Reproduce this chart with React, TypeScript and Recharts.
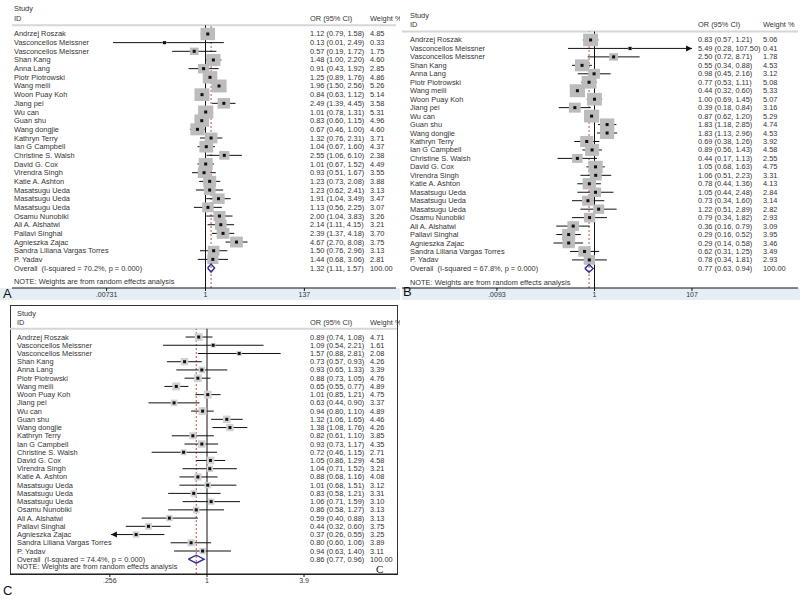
import React from "react";
import { ScatterChart, Scatter, XAxis, YAxis, ReferenceLine, ErrorBar } from "recharts";

const FONT = "'Liberation Sans', Arial, sans-serif";

const studies = [
  "Andrzej Roszak",
  "Vasconcellos Meissner",
  "Vasconcellos Meissner",
  "Shan Kang",
  "Anna Lang",
  "Piotr Piotrowski",
  "Wang meili",
  "Woon Puay Koh",
  "Jiang pei",
  "Wu can",
  "Guan shu",
  "Wang dongjie",
  "Kathryn Terry",
  "Ian G Campbell",
  "Christine S. Walsh",
  "David G. Cox",
  "Virendra Singh",
  "Katie A. Ashton",
  "Masatsugu Ueda",
  "Masatsugu Ueda",
  "Masatsugu Ueda",
  "Osamu Nunobiki",
  "Ali A. Alshatwi",
  "Pallavi Singhal",
  "Agnieszka Zajac",
  "Sandra Liliana Vargas Torres",
  "P. Yadav",
];

// panel A
const orA = [1.12, 0.13, 0.57, 1.48, 0.91, 1.25, 1.96, 0.84, 2.49, 1.01, 0.83, 0.67, 1.32, 1.04, 2.55, 1.01, 0.93, 1.23, 1.23, 1.91, 1.13, 2.0, 2.14, 2.39, 4.67, 1.5, 1.44];
const lowA = [0.79, 0.01, 0.19, 1.0, 0.43, 0.89, 1.5, 0.63, 1.39, 0.78, 0.6, 0.46, 0.76, 0.67, 1.06, 0.67, 0.51, 0.73, 0.62, 1.04, 0.56, 1.04, 1.11, 1.37, 2.7, 0.76, 0.68];
const highA = [1.58, 2.49, 1.72, 2.2, 1.92, 1.76, 2.56, 1.12, 4.45, 1.31, 1.15, 1.0, 2.31, 1.6, 6.1, 1.52, 1.67, 2.08, 2.41, 3.49, 2.25, 3.83, 4.15, 4.18, 8.08, 2.96, 3.06];
const weightA = [4.85, 0.33, 1.75, 4.6, 2.85, 4.86, 5.26, 5.14, 3.58, 5.31, 4.96, 4.6, 3.71, 4.37, 2.38, 4.49, 3.55, 3.88, 3.13, 3.47, 3.07, 3.26, 3.21, 3.7, 3.75, 3.13, 2.81];
const overallA = { or: 1.32, low: 1.11, high: 1.57, label: "Overall  (I-squared = 70.2%, p = 0.000)" };
const ticksA = [0.00731, 1, 137];
const tickLabelsA = [".00731", "1", "137"];

// panel B
const orB = [0.83, 5.49, 2.5, 0.55, 0.98, 0.77, 0.44, 1.0, 0.39, 0.87, 1.83, 1.83, 0.69, 0.89, 0.44, 1.05, 1.06, 0.78, 1.05, 0.73, 1.22, 0.79, 0.36, 0.29, 0.29, 0.62, 0.78];
const lowB = [0.57, 0.28, 0.72, 0.34, 0.45, 0.53, 0.32, 0.69, 0.18, 0.62, 1.18, 1.13, 0.38, 0.56, 0.17, 0.68, 0.51, 0.44, 0.44, 0.34, 0.51, 0.34, 0.16, 0.16, 0.14, 0.31, 0.34];
const highB = [1.21, 107.5, 8.71, 0.88, 2.16, 1.11, 0.6, 1.45, 0.84, 1.2, 2.85, 2.96, 1.26, 1.43, 1.13, 1.63, 2.23, 1.36, 2.48, 1.6, 2.89, 1.82, 0.79, 0.52, 0.58, 1.25, 1.81];
const weightB = [5.06, 0.41, 1.78, 4.53, 3.12, 5.08, 5.33, 5.07, 3.16, 5.29, 4.74, 4.53, 3.92, 4.58, 2.55, 4.75, 3.31, 4.13, 2.84, 3.14, 2.82, 2.93, 3.09, 3.95, 3.46, 3.49, 2.93];
const overallB = { or: 0.77, low: 0.63, high: 0.94, label: "Overall  (I-squared = 67.8%, p = 0.000)" };
const ticksB = [0.0093, 1, 107];
const tickLabelsB = [".0093", "1", "107"];

// panel C
const orC = [0.89, 1.09, 1.57, 0.73, 0.93, 0.88, 0.65, 1.01, 0.63, 0.94, 1.32, 1.38, 0.82, 0.93, 0.72, 1.05, 1.04, 0.88, 1.01, 0.83, 1.06, 0.86, 0.59, 0.44, 0.37, 0.8, 0.94];
const lowC = [0.74, 0.54, 0.88, 0.57, 0.65, 0.73, 0.55, 0.85, 0.44, 0.8, 1.06, 1.08, 0.61, 0.73, 0.46, 0.86, 0.71, 0.68, 0.68, 0.58, 0.71, 0.58, 0.4, 0.32, 0.26, 0.6, 0.63];
const highC = [1.08, 2.21, 2.81, 0.93, 1.33, 1.05, 0.77, 1.21, 0.9, 1.1, 1.65, 1.76, 1.1, 1.17, 1.15, 1.29, 1.52, 1.16, 1.51, 1.21, 1.59, 1.27, 0.88, 0.6, 0.55, 1.06, 1.4];
const weightC = [4.71, 1.61, 2.08, 4.26, 3.39, 4.76, 4.89, 4.75, 3.37, 4.89, 4.46, 4.26, 3.85, 4.35, 2.71, 4.58, 3.21, 4.08, 3.12, 3.31, 3.1, 3.13, 3.13, 3.75, 3.25, 3.89, 3.11];
const overallC = { or: 0.86, low: 0.77, high: 0.96, label: "Overall  (I-squared = 74.4%, p = 0.000)" };
const ticksC = [0.256, 1, 3.9];
const tickLabelsC = [".256", "1", "3.9"];

const arrowsB = [{ x: highB[1], y: 2, dir: 1 }];
const arrowsC = [{ x: lowC[24], y: 25, dir: -1 }];

const NOTE = "NOTE: Weights are from random effects analysis";

type Panel = {
  id: string;
  left: number;
  top: number;
  width: number;
  height: number;
  plotLeft: number;
  plotRight: number;
  plotTop: number;
  plotBottom: number;
  oneX: number;
  pxPerLn: number;
  rowGap: number;
  noteRow: number;
  cols: { name: number; or: number; w: number };
  box: [number, number];
  boxFill: string;
  or: number[];
  low: number[];
  high: number[];
  weight: number[];
  overall: { or: number; low: number; high: number; label: string };
  ticks: number[];
  tickLabels: string[];
  arrows: { x: number; y: number; dir: number }[];
  headTop: number;
};

const panels: Panel[] = [
  {
    id: "A", left: 0, top: 0, width: 400, height: 300,
    plotLeft: 12, plotRight: 396, plotTop: 25.3, plotBottom: 288,
    oneX: 205.5, pxPerLn: 20.1, rowGap: 8.67, noteRow: 29.6,
    cols: { name: 14, or: 310, w: 370 }, box: [6.6, 5.6], boxFill: "#bcbcbc",
    or: orA, low: lowA, high: highA, weight: weightA, overall: overallA,
    ticks: ticksA, tickLabels: tickLabelsA, arrows: [], headTop: 8.5,
  },
  {
    id: "B", left: 400, top: 0, width: 400, height: 300,
    plotLeft: 2, plotRight: 398, plotTop: 31.5, plotBottom: 288,
    oneX: 194.5, pxPerLn: 20.86, rowGap: 8.46, noteRow: 29.72,
    cols: { name: 10, or: 298, w: 363 }, box: [6.6, 5.6], boxFill: "#bcbcbc",
    or: orB, low: lowB, high: highB, weight: weightB, overall: overallB,
    ticks: ticksB, tickLabels: tickLabelsB, arrows: arrowsB, headTop: 15,
  },
  {
    id: "C", left: 0, top: 300, width: 400, height: 300,
    plotLeft: 10, plotRight: 397, plotTop: 28.8, plotBottom: 274,
    oneX: 207, pxPerLn: 71.3, rowGap: 8.23, noteRow: 28.94,
    cols: { name: 17, or: 310, w: 370 }, box: [3.6, 3.6], boxFill: "#d2d2d2",
    or: orC, low: lowC, high: highC, weight: weightC, overall: overallC,
    ticks: ticksC, tickLabels: tickLabelsC, arrows: arrowsC, headTop: 13,
  },
];

const txt = { fontSize: 7.4, fill: "#333", fontFamily: FONT };

const rowTick = (p: Panel) => (props: any) => {
  const { y, payload } = props;
  const r = payload.value;
  if (r === p.noteRow) {
    return (
      <text x={p.cols.name} y={y} dominantBaseline="central" style={txt}>
        {NOTE}
      </text>
    );
  }
  const i = r - 1;
  const isOverall = i === studies.length;
  const name = isOverall ? p.overall.label : studies[i];
  const o = isOverall ? p.overall.or : p.or[i];
  const lo = isOverall ? p.overall.low : p.low[i];
  const hi = isOverall ? p.overall.high : p.high[i];
  const w = isOverall ? 100 : p.weight[i];
  return (
    <g>
      <text x={p.cols.name} y={y} dominantBaseline="central" style={{ ...txt, whiteSpace: "pre" }}>
        {name}
      </text>
      <text x={p.cols.or} y={y} dominantBaseline="central" style={txt}>
        {`${o.toFixed(2)} (${lo.toFixed(2)}, ${hi.toFixed(2)})`}
      </text>
      <text x={p.cols.w} y={y} dominantBaseline="central" style={txt}>
        {w.toFixed(2)}
      </text>
    </g>
  );
};

const ForestPanel = ({ p }: { p: Panel }) => {
  const points = p.or.map((o, i) => ({
    x: o,
    y: i + 1,
    w: p.weight[i],
    err: [o - p.low[i], p.high[i] - o],
  }));
  const oy = studies.length + 1;
  const half = 4 / p.rowGap;
  const diamond = [
    { x: p.overall.low, y: oy },
    { x: p.overall.or, y: oy - half },
    { x: p.overall.high, y: oy },
    { x: p.overall.or, y: oy + half },
    { x: p.overall.low, y: oy },
  ];
  const domain = [
    Math.exp((p.plotLeft - p.oneX) / p.pxPerLn),
    Math.exp((p.plotRight - p.oneX) / p.pxPerLn),
  ];
  const yMax = (p.plotBottom - p.plotTop) / p.rowGap;
  const rowTicks = [...points.map((d) => d.y), oy, p.noteRow];

  return (
    <ScatterChart
      width={p.width}
      height={p.height}
      margin={{ top: p.plotTop, left: p.plotLeft - 1, right: p.width - p.plotRight, bottom: 0 }}
    >
      <XAxis
        type="number"
        dataKey="x"
        scale="log"
        domain={domain}
        allowDataOverflow
        ticks={p.ticks}
        interval={0}
        height={p.height - p.plotBottom}
        tickFormatter={(v: number) => p.tickLabels[p.ticks.indexOf(v)] ?? ""}
        tick={{ fontSize: 7, fill: "#333", fontFamily: FONT }}
        tickSize={3}
        tickMargin={1}
        axisLine={{ stroke: "#111" }}
        tickLine={{ stroke: "#111" }}
      />
      <YAxis
        type="number"
        dataKey="y"
        domain={[0, yMax]}
        allowDataOverflow
        reversed
        width={1}
        ticks={rowTicks}
        interval={0}
        axisLine={false}
        tickLine={false}
        tick={rowTick(p)}
      />
      <ReferenceLine y={0} stroke="#d6d6d6" strokeWidth={2} />
      <Scatter
        data={points}
        isAnimationActive={false}
        shape={(s: any) => {
          const bw = p.box[0] * Math.sqrt(s.payload.w);
          const bh = p.box[1] * Math.sqrt(s.payload.w);
          return <rect x={s.cx - bw / 2} y={s.cy - bh / 2} width={bw} height={bh} fill={p.boxFill} />;
        }}
      />
      <ReferenceLine x={1} stroke="#111" strokeWidth={1} />
      <ReferenceLine x={p.overall.or} stroke="#c0504d" strokeDasharray="2 2" strokeWidth={1} />
      <Scatter
        data={points}
        isAnimationActive={false}
        shape={(s: any) => <rect x={s.cx - 1.5} y={s.cy - 1.5} width={3} height={3} fill="#111" />}
      >
        <ErrorBar dataKey="err" direction="x" width={0} stroke="#111" strokeWidth={1} />
      </Scatter>
      <Scatter
        data={diamond}
        isAnimationActive={false}
        line={{ stroke: "#2e2e96", strokeWidth: 1.4 }}
        lineType="joint"
        shape={() => <g />}
      />
      {p.arrows.length > 0 && (
        <Scatter
          data={p.arrows}
          isAnimationActive={false}
          shape={(s: any) => {
            const d = s.payload.dir;
            const pts = `${s.cx},${s.cy} ${s.cx - 6 * d},${s.cy - 3} ${s.cx - 6 * d},${s.cy + 3}`;
            return <polygon points={pts} fill="#111" />;
          }}
        />
      )}
    </ScatterChart>
  );
};

const Head = ({ x, y, children }: { x: number; y: number; children: React.ReactNode }) => (
  <div
    style={{
      position: "absolute",
      left: x,
      top: y - 4.5,
      fontSize: 7.4,
      lineHeight: "9px",
      color: "#333",
      fontFamily: FONT,
      whiteSpace: "nowrap",
    }}
  >
    {children}
  </div>
);

export default function App() {
  return (
    <div style={{ position: "fixed", left: 0, top: 0, width: 800, height: 599, background: "#fff", overflow: "hidden" }}>
      {/* axis bands */}
      <div style={{ position: "absolute", left: 0, top: 288, width: 400, height: 12, background: "#e5eef5" }} />
      <div style={{ position: "absolute", left: 402, top: 288, width: 398, height: 12, background: "#e5eef5" }} />
      {/* frame of panel C */}
      <div style={{ position: "absolute", left: 10, top: 305, width: 386, height: 268, border: "1px solid #333" }} />

      {panels.map((p) => (
        <div
          key={p.id}
          style={{ position: "absolute", left: p.left, top: p.top, width: p.width, height: p.height, overflow: "hidden" }}
        >
          <Head x={p.cols.name} y={p.headTop}>Study</Head>
          <Head x={p.cols.name} y={p.headTop + 9.5}>ID</Head>
          <Head x={p.cols.or} y={p.headTop + 9.5}>OR (95% CI)</Head>
          <Head x={p.cols.w} y={p.headTop + 9.5}>Weight %</Head>
          <div style={{ position: "absolute", left: 0, top: 0 }}>
            <ForestPanel p={p} />
          </div>
        </div>
      ))}

      <div style={{ position: "absolute", left: 3, top: 286, fontSize: 13, fontFamily: FONT, color: "#111" }}>A</div>
      <div style={{ position: "absolute", left: 403, top: 284, fontSize: 13, fontFamily: FONT, color: "#111" }}>B</div>
      <div style={{ position: "absolute", left: 3, top: 583, fontSize: 13, fontFamily: FONT, color: "#111" }}>C</div>
      <div
        style={{
          position: "absolute",
          left: 376,
          top: 565,
          fontSize: 11,
          lineHeight: "9px",
          fontFamily: "'Liberation Serif', 'Times New Roman', serif",
          color: "#111",
        }}
      >
        C
      </div>
    </div>
  );
}
